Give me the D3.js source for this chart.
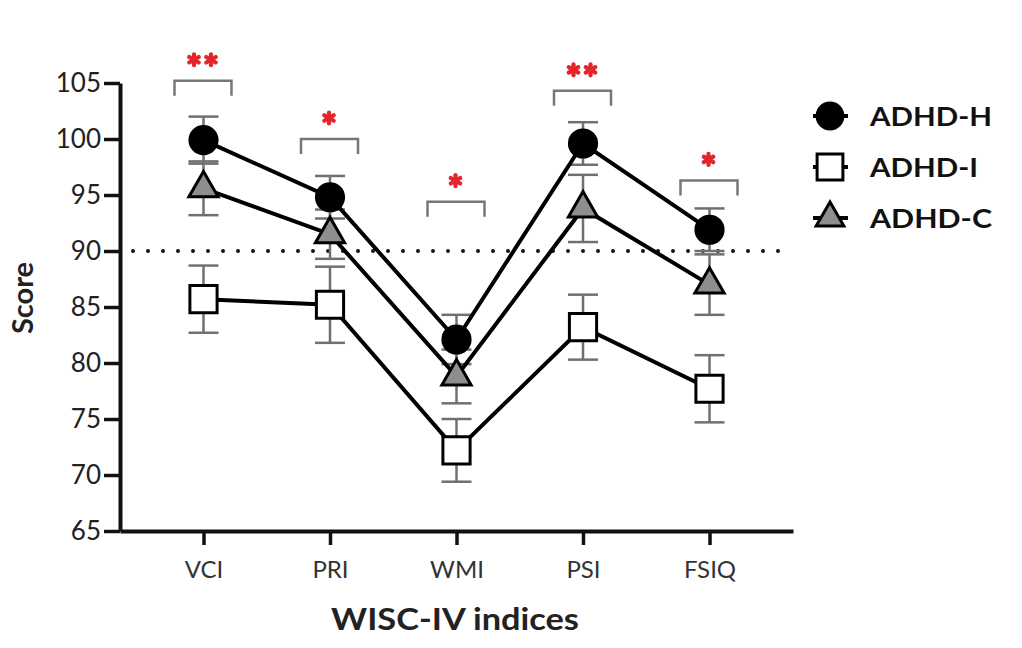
<!DOCTYPE html>
<html>
<head>
<meta charset="utf-8">
<script src="https://cdn.jsdelivr.net/npm/d3@7"></script>
<style>
  body { margin: 0; background: #fff; }
  svg { font-family: Lato, "Open Sans", sans-serif; }
</style>
</head>
<body>
<svg id="chart" width="1022" height="648"></svg>
<script>
// data
const categories = ["VCI", "PRI", "WMI", "PSI", "FSIQ"];
const seriesNames = ["ADHD-H", "ADHD-I", "ADHD-C"];
const adhdH = [99.9, 94.8, 82.1, 99.6, 91.9];
const adhdHErr = [2.1, 1.9, 2.2, 1.9, 1.9];
const adhdI = [85.7, 85.2, 72.2, 83.2, 77.7];
const adhdIErr = [3.0, 3.4, 2.8, 2.9, 3.0];
const adhdC = [95.6, 91.5, 78.8, 93.8, 87.0];
const adhdCErr = [2.4, 2.2, 2.4, 3.0, 2.7];
const sigTop = [105.2, 100.0, 94.4, 104.3, 96.3];
const sigLabels = ["**", "*", "*", "**", "*"];
const yTicks = [65, 70, 75, 80, 85, 90, 95, 100, 105];
const refLine = 90;

const svg = d3.select("#chart");

const y = d3.scaleLinear().domain([65, 105]).range([531, 83]);
const x = d3.scalePoint().domain(categories).range([120, 793]).padding(0.66);

const series = [
  {name: seriesNames[0], values: adhdH, err: adhdHErr, symbol: d3.symbolCircle, size: 580, fill: "#000", len: 122},
  {name: seriesNames[1], values: adhdI, err: adhdIErr, symbol: d3.symbolSquare, size: 740, fill: "#fff", len: 108},
  {name: seriesNames[2], values: adhdC, err: adhdCErr, symbol: d3.symbolTriangle, size: 370, fill: "#8e8e8e", len: 122}
];

//reference dotted line
svg.append("line")
  .attr("x1", 133).attr("x2", 787)
  .attr("y1", y(refLine)).attr("y2", y(refLine))
  .attr("stroke", "#111")
  .attr("stroke-width", 4)
  .attr("stroke-linecap", "round")
  .attr("stroke-dasharray", "0 15");

//axes
const yAxis = svg.append("g")
  .attr("transform", "translate(120,0)")
  .call(d3.axisLeft(y).tickValues(yTicks).tickSize(16).tickSizeOuter(0).tickPadding(3));
yAxis.select(".domain").attr("stroke", "#111").attr("stroke-width", 4);
yAxis.selectAll(".tick line").attr("stroke", "#111").attr("stroke-width", 3.5);
yAxis.selectAll(".tick text")
  .attr("font-size", 26).attr("fill", "#222")
  .attr("font-family", "Lato, sans-serif");

const xAxis = svg.append("g")
  .attr("transform", "translate(0,531)")
  .call(d3.axisBottom(x).tickSize(14).tickSizeOuter(0).tickPadding(16));
xAxis.select(".domain").attr("stroke", "#111").attr("stroke-width", 4);
xAxis.selectAll(".tick line").attr("stroke", "#111").attr("stroke-width", 3.5);
xAxis.selectAll(".tick text")
  .attr("font-size", 24).attr("fill", "#333")
  .attr("font-family", "Lato, sans-serif");

//axis titles
svg.append("text")
  .attr("x", 455).attr("y", 630)
  .attr("text-anchor", "middle")
  .attr("font-size", 30).attr("font-weight", "bold").attr("fill", "#222")
  .attr("textLength", 248).attr("lengthAdjust", "spacingAndGlyphs")
  .text("WISC-IV indices");

svg.append("text")
  .attr("transform", "translate(33,298) rotate(-90)")
  .attr("text-anchor", "middle")
  .attr("font-size", 29).attr("font-weight", "bold").attr("fill", "#222")
  .text("Score");

//error bars
series.forEach(s => {
  const g = svg.append("g").attr("stroke", "#707070").attr("stroke-width", 2.5);
  categories.forEach((c, i) => {
    const cx = x(c), top = y(s.values[i] + s.err[i]), bot = y(s.values[i] - s.err[i]);
    g.append("line").attr("x1", cx).attr("x2", cx).attr("y1", top).attr("y2", bot);
    g.append("line").attr("x1", cx - 15).attr("x2", cx + 15).attr("y1", top).attr("y2", top);
    g.append("line").attr("x1", cx - 15).attr("x2", cx + 15).attr("y1", bot).attr("y2", bot);
  });
});

//connecting lines
const line = d3.line()
  .x((d, i) => x(categories[i]))
  .y(d => y(d));
series.forEach(s => {
  svg.append("path")
    .datum(s.values)
    .attr("d", line)
    .attr("fill", "none")
    .attr("stroke", "#000")
    .attr("stroke-width", 4);
});

//markers
series.forEach(s => {
  svg.append("g").selectAll("path")
    .data(s.values)
    .join("path")
    .attr("transform", (d, i) => `translate(${x(categories[i])},${y(d)})`)
    .attr("d", d3.symbol().type(s.symbol).size(s.size))
    .attr("fill", s.fill)
    .attr("stroke", "#000")
    .attr("stroke-width", 3);
});

//significance brackets and stars
categories.forEach((c, i) => {
  const cx = x(c), ty = y(sigTop[i]);
  svg.append("path")
    .attr("d", `M${cx - 29},${ty + 15}V${ty}H${cx + 28}V${ty + 15}`)
    .attr("fill", "none")
    .attr("stroke", "#777")
    .attr("stroke-width", 2.5);
  const n = sigLabels[i].length;
  for (let k = 0; k < n; k++) {
    const sx = cx - 1 + (k - (n - 1) / 2) * 17, sy = ty - 21;
    const star = svg.append("g").attr("transform", `translate(${sx},${sy})`);
    [90, 30, -30].forEach(a => {
      const r = a * Math.PI / 180;
      star.append("line")
        .attr("x1", -5.5 * Math.cos(r)).attr("y1", -5.5 * Math.sin(r))
        .attr("x2", 5.5 * Math.cos(r)).attr("y2", 5.5 * Math.sin(r))
        .attr("stroke", "#e3262b")
        .attr("stroke-width", 4.2)
        .attr("stroke-linecap", "round");
    });
  }
});

//legend
const legendY = [116, 167, 218];
series.forEach((s, i) => {
  const g = svg.append("g").attr("transform", `translate(830,${legendY[i]})`);
  g.append("line").attr("x1", -17).attr("x2", 18)
    .attr("stroke", "#000").attr("stroke-width", 4);
  g.append("path")
    .attr("d", d3.symbol().type(s.symbol).size(s.size * 0.9))
    .attr("fill", s.fill)
    .attr("stroke", "#000")
    .attr("stroke-width", 3);
  g.append("text")
    .attr("x", 40).attr("y", 10)
    .attr("font-size", 27).attr("font-weight", "bold").attr("fill", "#111")
    .attr("textLength", s.len)
    .attr("lengthAdjust", "spacingAndGlyphs")
    .text(s.name);
});
</script>
</body>
</html>
